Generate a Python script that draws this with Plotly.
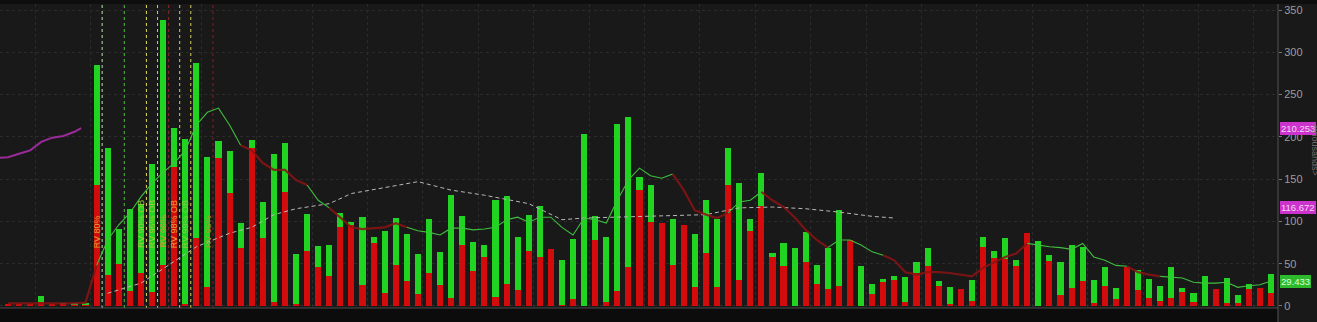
import plotly.graph_objects as go

# ---------------- data ----------------
bars = list(range(115))

total_volume = [
    1.5, 2, 2, 12, 2, 3, 4, 3,
    285, 187, 91, 115, 121, 168, 338, 211, 197, 287, 176, 195, 183, 98, 196, 123, 180, 193, 61, 109, 71, 72,
    110, 99, 105, 82, 89, 104, 85, 61, 103, 64, 131, 106, 76, 72, 125, 130, 82, 107, 118, 67, 54, 79, 203, 106, 82, 215, 224, 152, 143,
    98, 103, 96, 85, 125, 103, 187, 145, 103, 157, 63, 75, 68, 87, 48, 68, 113, 78, 47, 26, 32, 35, 34, 52, 69, 30, 22, 20, 31,
    82, 65, 80, 54, 86, 77, 60, 52, 72, 70, 31, 46, 21, 46, 43, 32, 24, 46, 21, 15, 36, 20, 33, 13, 26, 21, 38,
]

sell_volume = [
    1.5, 2, 2, 5, 2, 2, 1, 0.5,
    143, 37, 50, 18, 39, 16, 48, 164, 2, 80, 23, 175, 134, 69, 187, 80, 5, 135, 2, 65, 46, 35,
    93, 96, 25, 75, 15, 48, 29, 14, 39, 25, 9, 72, 41, 58, 11, 26, 19, 65, 58, 67, 1, 8, 0, 78, 5, 18, 46, 137, 99,
    98, 48, 96, 22, 63, 22, 143, 31, 89, 118, 58, 47, 0, 52, 26, 20, 24, 78, 0, 14, 28, 31, 5, 39, 47, 24, 2, 20, 6,
    70, 57, 56, 47, 86, 0, 53, 13, 21, 30, 4, 24, 8, 46, 19, 10, 6, 10, 17, 5, 0, 20, 4, 4, 20, 21, 15,
]

ma_volume = [
    3, 3, 3, 3, 3, 3, 3, 4,
    48, 78, 96, 110, 129, 145, 158, 169, 184, 214, 229, 234, 214, 190, 184, 169, 161, 161, 149, 143, 125, 116,
    105, 93, 91, 92, 93, 98, 93, 89, 87, 84, 92, 92, 90, 91, 93, 102, 105, 99, 105, 105, 93, 84, 104, 102, 98, 125, 149, 163, 154,
    151, 156, 137, 113, 108, 104, 110, 123, 125, 135, 125, 117, 105, 90, 78, 69, 78, 78, 72, 64, 60, 54, 40, 37, 40, 40, 39, 37, 35,
    45, 52, 58, 62, 74, 72, 70, 69, 67, 74, 58, 54, 48, 47, 40, 37, 35, 34, 33, 28, 27, 27, 28, 22, 24, 25, 29.433,
]

# runs of the volume average's state (start bar, end bar, state)
trend_runs = [
    (0, 8, "down"), (8, 21, "up"), (21, 27, "down"), (27, 29, "up"), (29, 36, "down"),
    (36, 60, "up"), (60, 65, "down"), (65, 68, "up"), (68, 74, "down"), (74, 79, "up"),
    (79, 92, "down"), (92, 101, "up"), (101, 104, "down"), (104, 114, "up"),
]

slow_ma_bars = [9, 12, 14, 16, 17, 20, 22, 24, 26, 29, 31, 34, 37, 40, 43, 47, 50, 52, 55, 58, 63, 66, 69, 72, 75, 78, 80]
slow_ma = [15, 27, 44, 62, 70, 86, 93, 108, 115, 121, 133, 140, 147, 137, 131, 121, 102, 104, 105, 106, 108, 116, 117, 115, 111, 106, 104]

price_bars = [-1, 0, 1, 2, 3, 4, 5, 6, 6.6]
price = [175, 176, 180, 184, 194, 199, 201, 206, 210.253]

event_bars = [8, 10, 12, 13, 14, 15, 16, 18]
event_labels = ["RV 80%", "", "RV 90% OB", "RV 95% OB", "RV 96%", "RV 98% OB", "RV 99% OB", "RV 95%"]

y_ticks = [0, 50, 100, 150, 200, 250, 300, 350]

last_value_labels = ["210.253", "116.672", "29.433"]
last_values = [210.253, 116.672, 29.433]

# ---------------- styles ----------------
GREEN = "#22d422"
RED = "#d20c0c"
BG = "#191919"
event_line_colors = ["#b9e3a8", "#52c03e", "#d8cf5a", "#d8cf5a", "#8b2a2a", "#d8cf5a", "#d8cf5a", "#7a2020"]
event_text_colors = ["#e39a2c", "#52c03e", "#9ccc3a", "#a9c83a", "#d09a30", "#f0a030", "#80d040", "#a89a30"]
label_bg = ["#cc33cc", "#cc33cc", "#2dbb2d"]
label_fg = ["#f4d8f4", "#f4d8f4", "#d8ffd8"]

fig = go.Figure()

fig.add_trace(go.Bar(x=bars, y=total_volume, marker=dict(color=GREEN, line=dict(width=0)),
                     width=0.55, showlegend=False))
fig.add_trace(go.Bar(x=bars, y=sell_volume, marker=dict(color=RED, line=dict(width=0)),
                     width=0.55, showlegend=False))

# price line (purple)
fig.add_trace(go.Scatter(x=price_bars, y=price, mode="lines",
                         line=dict(color="#9a2c9a", width=2), showlegend=False))

# slow average dashed
fig.add_trace(go.Scatter(x=slow_ma_bars, y=slow_ma, mode="lines",
                         line=dict(color="#b8b8b8", width=1, dash="4px,3px"), showlegend=False))

# volume average with up/down colouring
for start, end, state in trend_runs:
    xs = bars[start:end + 1]
    ys = ma_volume[start:end + 1]
    if state == "up":
        ln = dict(color="#3fbf3f", width=1.1)
        op = 1
    else:
        ln = dict(color="#8a1414", width=2.2)
        op = 0.85
    fig.add_trace(go.Scatter(x=xs, y=ys, mode="lines", line=ln, opacity=op, showlegend=False))

shapes = []
annotations = []

for i, (b, lab) in enumerate(zip(event_bars, event_labels)):
    shapes.append(dict(type="line", xref="x", yref="paper", x0=b + 0.5, x1=b + 0.5, y0=0, y1=1,
                       line=dict(color=event_line_colors[i], width=1, dash="3px,3px"), layer="below"))
    if lab:
        annotations.append(dict(x=b, y=66, xref="x", yref="y", text=lab, showarrow=False,
                                textangle=-90, yanchor="bottom", xanchor="center",
                                font=dict(size=9, color=event_text_colors[i], family="Liberation Sans, Arial")))

# bottom / top strips and separators
shapes.append(dict(type="rect", xref="paper", yref="paper", x0=0, x1=1, y0=-0.05, y1=0,
                   fillcolor="#0c0c0c", line=dict(width=0), layer="above"))
shapes.append(dict(type="line", xref="paper", yref="paper", x0=0, x1=1, y0=0, y1=0,
                   line=dict(color="#4a4a4a", width=1)))
shapes.append(dict(type="rect", xref="paper", yref="paper", x0=0, x1=1.04, y0=1, y1=1.02,
                   fillcolor="#0e0e0e", line=dict(width=0), layer="above"))
shapes.append(dict(type="line", xref="paper", yref="paper", x0=1, x1=1, y0=-0.05, y1=1,
                   line=dict(color="#555555", width=1)))

for txt, val, bg, fg in zip(last_value_labels, last_values, label_bg, label_fg):
    annotations.append(dict(x=1, xref="paper", y=val, yref="y", text=txt, showarrow=False,
                            xanchor="left", yanchor="middle", xshift=2,
                            bgcolor=bg, bordercolor=bg, borderpad=0,
                            font=dict(size=9.5, color=fg, family="Liberation Sans, Arial")))

annotations.append(dict(x=1.0295, xref="paper", y=185, yref="y", text="<thousands>", showarrow=False,
                        textangle=90, xanchor="center", yanchor="middle",
                        font=dict(size=9, color="#707070", family="Liberation Sans, Arial")))

fig.update_layout(
    width=1317, height=322,
    margin=dict(l=0, r=39, t=4, b=14),
    paper_bgcolor=BG, plot_bgcolor=BG,
    barmode="overlay", bargap=0,
    shapes=shapes, annotations=annotations,
    xaxis=dict(range=[-0.72, 114.63], showticklabels=False, zeroline=False,
               showgrid=True, gridcolor="#2b2b2b", griddash="dot", gridwidth=1,
               tick0=2.45, dtick=5, ticks="", showline=False),
    yaxis=dict(range=[-2.4, 357.1], side="right", tickvals=y_ticks,
               ticktext=[str(v) for v in y_ticks],
               tickfont=dict(size=11, color="#9c9c9c", family="Liberation Sans, Arial"),
               ticks="outside", ticklen=3, tickcolor="#777777",
               showgrid=True, gridcolor="#2b2b2b", griddash="dot", zeroline=False, showline=False),
    font=dict(family="Liberation Sans, Arial"),
)

fig.write_html("out.html")
